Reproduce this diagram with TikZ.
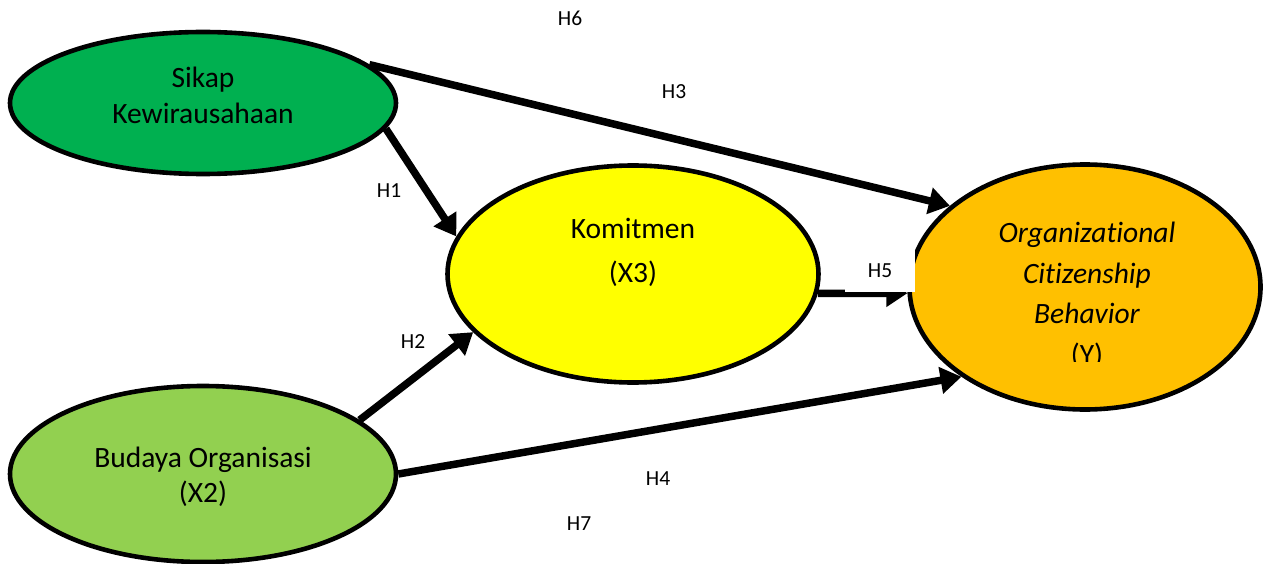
\documentclass[tikz,border=0pt]{standalone}
\usepackage{fontspec}
\setmainfont{Carlito}[Ligatures=NoCommon]
\usetikzlibrary{arrows.meta,shapes.geometric}
\definecolor{skgreen}{HTML}{00B050}
\definecolor{bdgreen}{HTML}{92D050}
\definecolor{kmyellow}{HTML}{FFFF00}
\definecolor{yorange}{HTML}{FFC000}
\tikzset{
  var/.style={ellipse, draw=black, line width=4.6pt, inner sep=0pt},
  vtext/.style={anchor=base, font=\fontsize{29.5}{35}\selectfont, inner sep=0pt},
  vitext/.style={vtext, font=\fontsize{29.5}{35}\selectfont\itshape},
  lab/.style={font=\fontsize{21.5}{25}\selectfont, inner sep=0pt},
  path/.style={line width=7.5pt, -{Triangle[length=21pt,width=26pt]}},
}
\begin{document}
\begin{tikzpicture}[x=1pt,y=-1pt]
\useasboundingbox (0,0) rectangle (1266,564);
% variables
\node[var, fill=skgreen, minimum width=386pt, minimum height=142pt] (sk) at (203,103) {};
\node[var, fill=bdgreen, minimum width=386pt, minimum height=176pt] (bd) at (203,474) {};
\node[var, fill=kmyellow, minimum width=371pt, minimum height=217pt] (km) at (633,274) {};
\node[var, fill=yorange, minimum width=351pt, minimum height=245pt] (yy) at (1085,287) {};
% connectors
\draw[path] (sk.-8.7) -- (km.168);
\draw[path] (bd.19.5) -- (km.-160.5);
\draw[path] (sk.13) -- (yy.149.3);
\draw[path] (bd.-0.6) -- (yy.-144.9);
\draw[path] (km.-6) -- (yy.182.6);
% texts
\node[vtext] (t1) at (203,88) {Sikap};
\node[vtext] (t2) at (203,124) {Kewirausahaan};
\node[vtext] (t3) at (633,239) {Komitmen};
\node[vtext] (t4) at (633,282) {(X3)};
\node[vtext] (t5) at (203,467) {Budaya Organisasi};
\node[vtext] (t6) at (203,502) {(X2)};
\node[vitext] (t7) at (1087,242) {Organizational};
\node[vitext] (t8) at (1087,283) {Citizenship};
\node[vitext] (t9) at (1087,323) {Behavior};
\begin{scope}
\clip (1000,330) rectangle (1170,361);
\node[vtext] (t10) at (1087,364) {(Y)};
\end{scope}
% hypothesis labels
\node[lab, anchor=base] (h6) at (570,26) {H6};
\node[lab, anchor=base] (h3) at (674,99) {H3};
\node[lab, anchor=base] (h1) at (389,197) {H1};
\node[lab, anchor=base] (h2) at (413,348) {H2};
\node[lab, fill=white, minimum width=70pt, minimum height=42pt] (h5) at (880,271) {H5};
\node[lab, anchor=base] (h4) at (658,485) {H4};
\node[lab, anchor=base] (h7) at (579,530) {H7};
\end{tikzpicture}
\end{document}
